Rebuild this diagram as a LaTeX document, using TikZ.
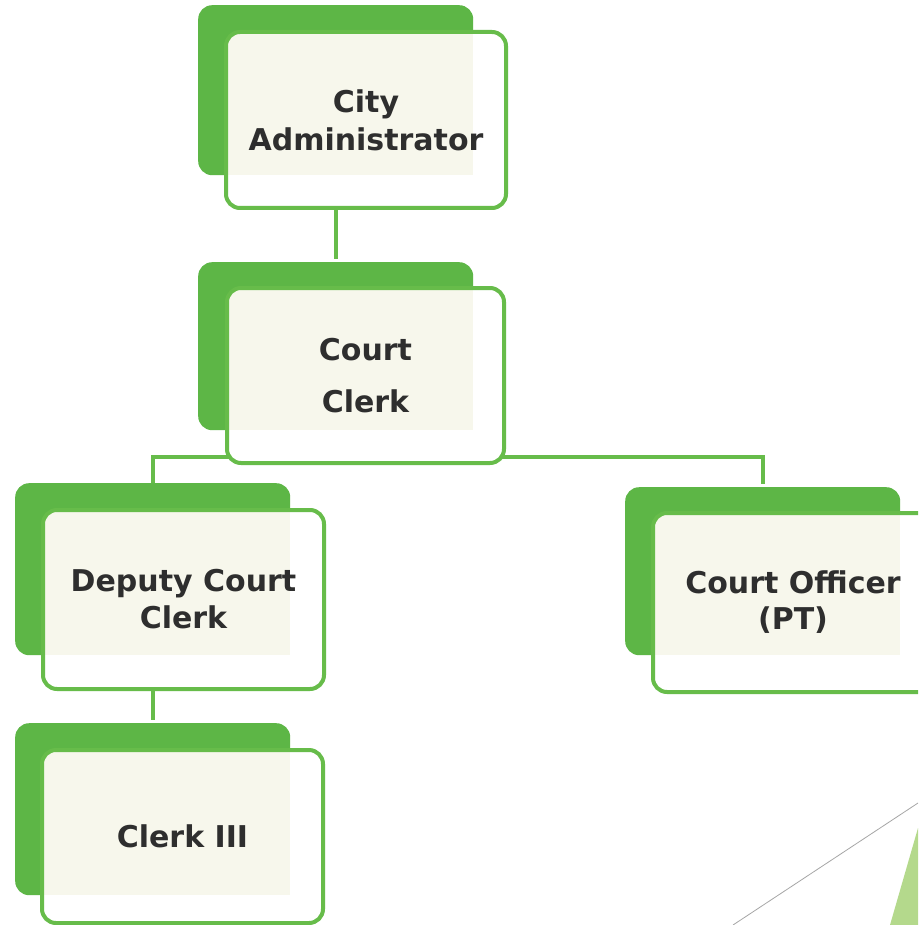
\documentclass[tikz,border=0pt]{standalone}
\usepackage{fontspec}
\setmainfont{DejaVu Sans}
\usetikzlibrary{backgrounds,calc}
\definecolor{backgreen}{HTML}{5DB646}
\definecolor{linegreen}{HTML}{67BC4A}
\definecolor{txt}{HTML}{2E2E2E}
\definecolor{cream}{HTML}{F7F7EC}
\definecolor{wedge}{HTML}{B4D98C}
\begin{document}
\begin{tikzpicture}[x=1pt,y=-1pt,
  backbox/.style={draw=none,fill=backgreen,rounded corners=14pt,minimum width=275pt,minimum height=170pt,anchor=north west,inner sep=0pt},
  frontbox/.style={draw=linegreen,line width=4pt,fill=white,rounded corners=14pt,minimum width=280pt,minimum height=176pt,inner sep=0pt,align=center,text=txt,font=\bfseries\fontsize{30}{38}\selectfont,
    path picture={\fill[cream,sharp corners] (path picture bounding box.north west) rectangle (#1-back.south east);}},
  link/.style={draw=linegreen,line width=4pt,shorten >=3pt}]
\clip (0,0) rectangle (918,925);
% City Administrator
\node[backbox] (ca-back) at (198,5) {};
\node[frontbox=ca] (ca) at (366,120) {City\\Administrator};
% Court Clerk
\node[backbox,minimum height=168pt] (cc-back) at (198,262) {};
\node[frontbox=cc,minimum width=277pt,minimum height=175pt,font=\bfseries\fontsize{30}{52}\selectfont] (cc) at (365.5,375.5) {Court\\Clerk};
% Deputy Court Clerk
\node[backbox,minimum height=172pt] (dcc-back) at (15,483) {};
\node[frontbox=dcc,minimum width=281pt,minimum height=179pt,font=\bfseries\fontsize{30}{37}\selectfont] (dcc) at (183.5,599.5) {Deputy Court\\Clerk};
% Court Officer
\node[backbox,minimum height=168pt] (co-back) at (625,487) {};
\node[frontbox=co,minimum width=280pt,minimum height=179pt,font=\bfseries\fontsize{30}{36}\selectfont] (co) at (793,602.5) {Court Officer\\(PT)};
% Clerk III
\node[backbox,minimum height=172pt] (c3-back) at (15,723) {};
\node[frontbox=c3,minimum width=281pt,minimum height=173pt] (c3) at (182.5,836.5) {Clerk III};
\coordinate (cc-bus) at (365,457);
\begin{scope}[on background layer]
  \fill[white] (0,0) rectangle (918,925);
  \draw[gray!70,line width=0.8pt] (733,925) -- (918,803);
  \fill[wedge] (890,925) -- (918,828) -- (918,925) -- cycle;
  \draw[link] (cc-back.north |- ca.south) -- (cc-back.north);
  \draw[link] (dcc-back.north) |- (cc-bus) -| (co-back.north);
  \draw[link] (c3-back.north |- dcc.south) -- (c3-back.north);
\end{scope}
\end{tikzpicture}
\end{document}
